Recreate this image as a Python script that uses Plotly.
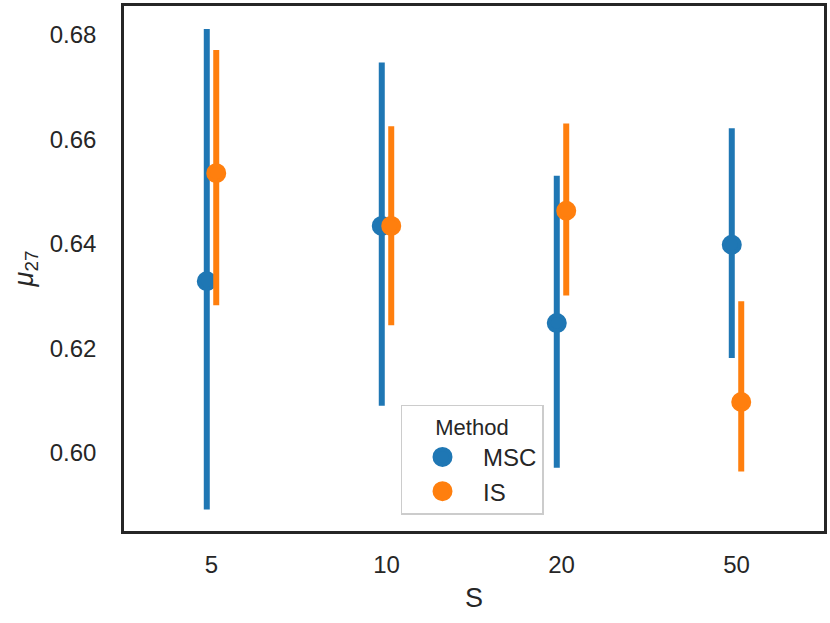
import plotly.graph_objects as go

categories = ["5", "10", "20", "50"]
methods = ["MSC", "IS"]
msc_mean = [0.6328, 0.6434, 0.6248, 0.6398]
msc_low = [0.5891, 0.6090, 0.5971, 0.6181]
msc_high = [0.6811, 0.6747, 0.6530, 0.6621]
is_mean = [0.6535, 0.6434, 0.6463, 0.6097]
is_low = [0.6282, 0.6244, 0.6301, 0.5964]
is_high = [0.6771, 0.6625, 0.6630, 0.6290]

colors = {"MSC": "#1f77b4", "IS": "#ff7f0e"}
offsets = {"MSC": -0.027, "IS": 0.027}
series = {
    "MSC": (msc_mean, msc_low, msc_high),
    "IS": (is_mean, is_low, is_high),
}

fig = go.Figure()
for m in methods:
    mean, low, high = series[m]
    xs = [i + offsets[m] for i in range(len(categories))]
    fig.add_trace(go.Scatter(
        x=xs, y=mean, mode="markers", name=m,
        marker=dict(color=colors[m], size=16, line=dict(color=colors[m], width=4)),
        error_y=dict(type="data", symmetric=False,
                     array=[h - v for h, v in zip(high, mean)],
                     arrayminus=[v - l for v, l in zip(mean, low)],
                     color=colors[m], thickness=6, width=0),
    ))

font = "Liberation Sans, Arial, sans-serif"
fig.update_layout(
    width=830, height=623,
    margin=dict(l=124, r=6, t=3, b=92),
    plot_bgcolor="white", paper_bgcolor="white",
    font=dict(family=font, size=24, color="#262626"),
    showlegend=True,
    legend=dict(
        title=dict(text="Method", side="top center", font=dict(size=22)),
        x=0.395, y=0.2405, xanchor="left", yanchor="top",
        bordercolor="#cccccc", borderwidth=1.5, bgcolor="white",
        font=dict(size=24), itemwidth=71,
        tracegroupgap=2,
    ),
    xaxis=dict(
        range=[-0.5, 3.5], tickmode="array",
        tickvals=list(range(len(categories))), ticktext=categories,
        showgrid=False, zeroline=False, ticks="",
        showline=True, mirror=True, linecolor="#262626", linewidth=2.5,
        title=dict(text="S", font=dict(size=27), standoff=12),
        ticklabelstandoff=10,
    ),
    yaxis=dict(
        range=[0.5850, 0.6855], tickmode="array",
        tickvals=[0.60, 0.62, 0.64, 0.66, 0.68],
        ticktext=["0.60", "0.62", "0.64", "0.66", "0.68"],
        showgrid=False, zeroline=False, ticks="",
        showline=True, mirror=True, linecolor="#262626", linewidth=2.5,
        title=dict(text="<i>μ</i><sub>27</sub>", font=dict(size=27), standoff=9),
        ticklabelstandoff=20,
    ),
)

fig.write_html(
    "out.html",
    config={"displayModeBar": False},
    post_script="document.body.style.margin='0';document.body.style.overflow='hidden';",
)
